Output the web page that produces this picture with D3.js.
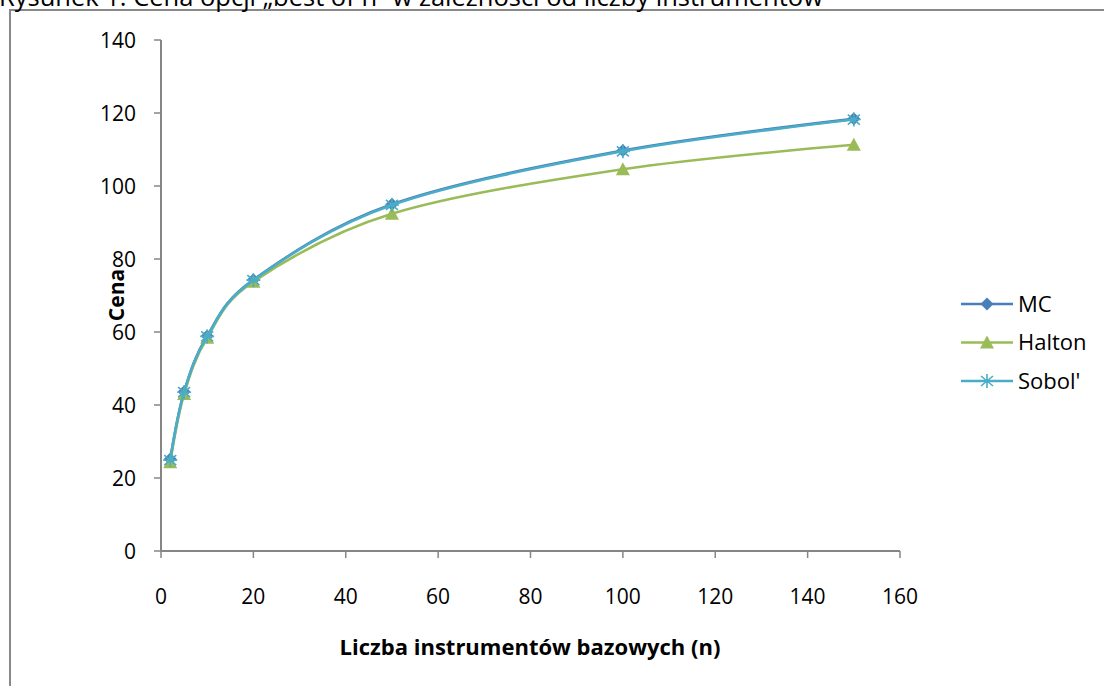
<!DOCTYPE html>
<html>
<head>
<meta charset="utf-8">
<script src="https://cdn.jsdelivr.net/npm/d3@7"></script>
<style>
  body { margin: 0; background: #fff; }
  svg { display: block; font-family: "Open Sans", sans-serif; }
</style>
</head>
<body>
<svg id="chart" width="1104" height="686"></svg>
<script>
const sizes = [2, 5, 10, 20, 50, 100, 150];
const mcValues = [25.2, 43.6, 58.9, 74.3, 95.0, 109.7, 118.4];
const haltonValues = [24.3, 43.0, 58.4, 73.8, 92.4, 104.6, 111.3];
const sobolValues = [24.9, 43.5, 58.8, 74.2, 94.8, 109.5, 118.2];
const xTicks = [0, 20, 40, 60, 80, 100, 120, 140, 160];
const yTicks = [0, 20, 40, 60, 80, 100, 120, 140];

const series = [
  { name: "MC", values: mcValues, color: "#4a7ebb", marker: "diamond" },
  { name: "Halton", values: haltonValues, color: "#9bbb59", marker: "triangle" },
  { name: "Sobol'", values: sobolValues, color: "#4bacc6", marker: "star" }
];

const svg = d3.select("#chart");
const axisColor = "#868686";

// outer frame of the chart object (clipped on right and bottom)
svg.append("rect")
  .attr("x", 10).attr("y", 10)
  .attr("width", 1110).attr("height", 700)
  .attr("fill", "none")
  .attr("stroke", "#898989")
  .attr("stroke-width", 2);

// caption, cut at the top edge like the source
svg.append("text")
  .attr("x", -1).attr("y", 6)
  .attr("font-size", 25.5)
  .attr("fill", "#000")
  .text("Rysunek 1. Cena opcji „best of n” w zależności od liczby instrumentów");

const x = d3.scaleLinear().domain([0, 160]).range([161, 900]);
const y = d3.scaleLinear().domain([0, 140]).range([551, 40]);

const axes = svg.append("g");

axes.append("line")
  .attr("x1", x(0)).attr("x2", x(160))
  .attr("y1", y(0)).attr("y2", y(0))
  .attr("stroke", axisColor).attr("stroke-width", 2);

axes.append("line")
  .attr("x1", x(0)).attr("x2", x(0))
  .attr("y1", y(0)).attr("y2", y(140))
  .attr("stroke", axisColor).attr("stroke-width", 2);

axes.selectAll(".xtick")
  .data(xTicks)
  .join("line")
  .attr("x1", d => x(d)).attr("x2", d => x(d))
  .attr("y1", y(0)).attr("y2", y(0) + 7)
  .attr("stroke", axisColor).attr("stroke-width", 1.5);

axes.selectAll(".ytick")
  .data(yTicks)
  .join("line")
  .attr("x1", x(0) - 7).attr("x2", x(0))
  .attr("y1", d => y(d)).attr("y2", d => y(d))
  .attr("stroke", axisColor).attr("stroke-width", 1.5);

axes.selectAll(".xlabel")
  .data(xTicks)
  .join("text")
  .attr("x", d => x(d))
  .attr("y", 604)
  .attr("text-anchor", "middle")
  .attr("font-size", 21)
  .text(d => d);

axes.selectAll(".ylabel")
  .data(yTicks)
  .join("text")
  .attr("x", 136)
  .attr("y", d => y(d) + 7.5)
  .attr("text-anchor", "end")
  .attr("font-size", 21)
  .text(d => d);

svg.append("text")
  .attr("x", 530).attr("y", 655)
  .attr("text-anchor", "middle")
  .attr("font-size", 22)
  .attr("font-weight", "bold")
  .text("Liczba instrumentów bazowych (n)");

svg.append("text")
  .attr("transform", "rotate(-90)")
  .attr("x", -295).attr("y", 124)
  .attr("text-anchor", "middle")
  .attr("font-size", 21)
  .attr("font-weight", "bold")
  .text("Cena");

function drawMarker(g, type, color) {
  if (type === "diamond") {
    g.append("path")
      .attr("d", "M0,-6.5L6.5,0L0,6.5L-6.5,0Z")
      .attr("fill", color);
  } else if (type === "triangle") {
    g.append("path")
      .attr("d", "M0,-7L7,6L-7,6Z")
      .attr("fill", color);
  } else {
    g.append("path")
      .attr("d", "M0,-7V7M-6,-5L6,5M-6,5L6,-5M-7,0H7")
      .attr("stroke", color)
      .attr("stroke-width", 1.6)
      .attr("fill", "none");
  }
}

const line = d3.line()
  .x((d, i) => x(sizes[i]))
  .y(d => y(d))
  .curve(d3.curveCardinal.tension(0));

const plot = svg.append("g");

series.forEach(s => {
  plot.append("path")
    .datum(s.values)
    .attr("fill", "none")
    .attr("stroke", s.color)
    .attr("stroke-width", 2.6)
    .attr("d", line);

  s.values.forEach((v, i) => {
    const g = plot.append("g")
      .attr("transform", `translate(${x(sizes[i])},${y(v)})`);
    drawMarker(g, s.marker, s.color);
  });
});

const legend = svg.append("g");
series.forEach((s, i) => {
  const ly = 304 + i * 38.5;
  const g = legend.append("g").attr("transform", `translate(0,${ly})`);
  g.append("line")
    .attr("x1", 961).attr("x2", 1013)
    .attr("stroke", s.color).attr("stroke-width", 2.6);
  const m = g.append("g").attr("transform", "translate(987,0)");
  drawMarker(m, s.marker, s.color);
  g.append("text")
    .attr("x", 1018).attr("y", 7.5)
    .attr("font-size", 22)
    .text(s.name);
});
</script>
</body>
</html>
